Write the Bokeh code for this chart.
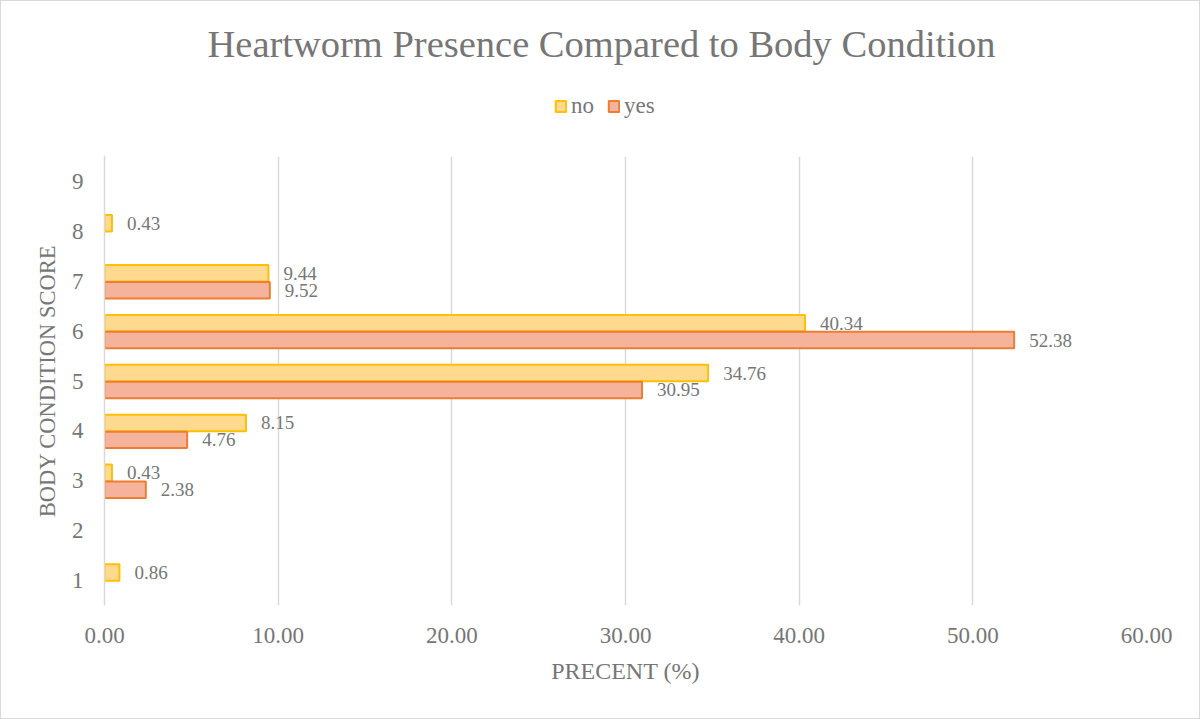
from bokeh.plotting import figure
from bokeh.layouts import column
from bokeh.models import (Range1d, FixedTicker, PrintfTickFormatter, ColumnDataSource,
                          LabelSet, Label, Legend, LegendItem)
from bokeh.embed import file_html
from bokeh.resources import INLINE

categories = [1, 2, 3, 4, 5, 6, 7, 8, 9]
no_vals = [0.86, 0.0, 0.43, 8.15, 34.76, 40.34, 9.44, 0.43, 0.0]
yes_vals = [0.0, 0.0, 2.38, 4.76, 30.95, 52.38, 9.52, 0.0, 0.0]
x_ticks = [0, 10, 20, 30, 40, 50, 60]
title_text = "Heartworm Presence Compared to Body Condition"
series_names = ["no", "yes"]

FONT = "Liberation Serif"
TXT = "#767676"
GRID = "#D9D9D9"
NO_FILL, NO_LINE = "#FFD98E", "#FFC000"
YES_FILL, YES_LINE = "#F5B39B", "#ED7D31"
W = 1198
HEAD_H = 155
MAIN_H = 562
BL, BR = 103, 53

# ---------------- header: title + legend (coordinates are page pixels) ----------------
head = figure(width=W, height=HEAD_H, output_backend="svg", toolbar_location=None, title=None,
              x_range=Range1d(BL + 1, W - BR + 1), y_range=Range1d(HEAD_H + 1, 1),
              x_axis_type=None, y_axis_type=None,
              min_border_left=BL, min_border_right=BR, min_border_top=0, min_border_bottom=0)
head.outline_line_color = None
head.grid.visible = False
head.add_layout(Label(x=601, y=43.5, text=title_text, text_font=FONT,
                      text_font_size="38.5px", text_color=TXT,
                      text_align="center", text_baseline="alphabetic"))
# legend swatches (their single bar lies far outside the visible ranges)
hn = head.hbar(y=[5000], right=[-4000], left=-5000, height=1,
               fill_color=NO_FILL, line_color=NO_LINE, line_width=2)
hy = head.hbar(y=[5000], right=[-4000], left=-5000, height=1,
               fill_color=YES_FILL, line_color=YES_LINE, line_width=2)
legend = Legend(items=[LegendItem(label=series_names[0], renderers=[hn]),
                       LegendItem(label=series_names[1], renderers=[hy])],
                location=(450, 37), orientation="horizontal",
                glyph_width=13, glyph_height=14, label_standoff=4, spacing=13,
                padding=0, margin=0, border_line_color=None, background_fill_alpha=0,
                label_text_font=FONT, label_text_font_size="23px", label_text_color=TXT,
                label_height=24, label_width=10)
head.add_layout(legend, "center")

# ---------------- main chart ----------------
p = figure(width=W, height=MAIN_H, output_backend="svg", toolbar_location=None, title=None,
           x_range=Range1d(0, 60), y_range=Range1d(0.5, 9.5),
           min_border_left=BL, min_border_right=BR, min_border_top=0, min_border_bottom=113)
p.outline_line_color = None

no_src = ColumnDataSource(dict(
    y=[c + 0.16 for c, v in zip(categories, no_vals) if v > 0],
    x=[v for v in no_vals if v > 0],
    t=["%.2f" % v for v in no_vals if v > 0]))
yes_src = ColumnDataSource(dict(
    y=[c - 0.18 for c, v in zip(categories, yes_vals) if v > 0],
    x=[v for v in yes_vals if v > 0],
    t=["%.2f" % v for v in yes_vals if v > 0]))

p.hbar(y="y", right="x", left=0, height=0.33, source=no_src,
       fill_color=NO_FILL, line_color=NO_LINE, line_width=2)
p.hbar(y="y", right="x", left=0, height=0.33, source=yes_src,
       fill_color=YES_FILL, line_color=YES_LINE, line_width=2)

for src in (no_src, yes_src):
    p.add_layout(LabelSet(x="x", y="y", text="t", source=src, x_offset=15,
                          text_font=FONT, text_font_size="19px", text_color=TXT,
                          text_baseline="middle", text_align="left"))

p.xaxis.ticker = FixedTicker(ticks=x_ticks)
p.xaxis.formatter = PrintfTickFormatter(format="%.2f")
p.yaxis.ticker = FixedTicker(ticks=categories)
for ax in (p.xaxis[0], p.yaxis[0]):
    ax.major_tick_line_color = None
    ax.minor_tick_line_color = None
    ax.major_label_text_font = FONT
    ax.major_label_text_font_size = "23px"
    ax.major_label_text_color = TXT
    ax.axis_label_text_font = FONT
    ax.axis_label_text_font_style = "normal"
    ax.axis_label_text_color = TXT
p.xaxis.axis_label_text_font_size = "24px"
p.yaxis.axis_label_text_font_size = "22.5px"
p.xaxis.major_label_standoff = 16
p.yaxis.major_label_standoff = 15
p.xaxis.axis_line_color = None
p.yaxis.axis_line_color = GRID
p.yaxis.axis_line_width = 1.5
p.xaxis.axis_label = "PRECENT (%)"
p.yaxis.axis_label = "BODY CONDITION SCORE"
p.xaxis.axis_label_standoff = 12
p.yaxis.axis_label_standoff = 9

p.xgrid.ticker = FixedTicker(ticks=x_ticks)
p.xgrid.grid_line_color = GRID
p.xgrid.grid_line_width = 1.5
p.ygrid.grid_line_color = None

layout = column(head, p, spacing=0)
layout.styles = {"border": "1px solid #D9D9D9"}

open("out.html", "w").write(file_html(layout, INLINE))
